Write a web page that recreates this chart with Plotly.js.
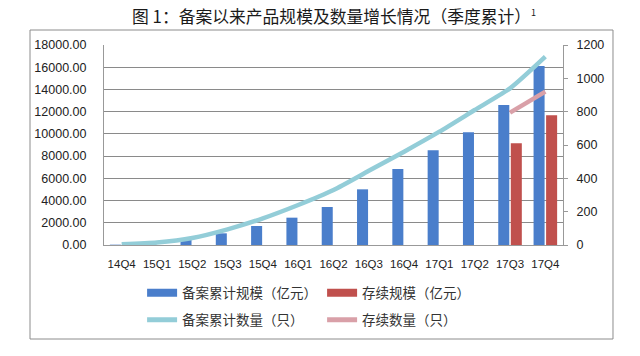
<!DOCTYPE html>
<html>
<head>
<meta charset="utf-8">
<script src="https://cdn.plot.ly/plotly-3.0.1.min.js"></script>
<style>html,body{margin:0;padding:0;background:#fff;}#chart{width:640px;height:356px;}</style>
</head>
<body>
<div id="chart"></div>
<script>
const categories = ['14Q4','15Q1','15Q2','15Q3','15Q4','16Q1','16Q2','16Q3','16Q4','17Q1','17Q2','17Q3','17Q4'];
const filedScale = [30, 100, 450, 1050, 1710, 2460, 3420, 5010, 6840, 8520, 10140, 12600, 16110];
const activeScale = [null, null, null, null, null, null, null, null, null, null, null, 9150, 11670];
const filedCount = [5, 15, 42, 94, 160, 240, 330, 445, 560, 680, 810, 940, 1130];
const activeCount = [null, null, null, null, null, null, null, null, null, null, null, 794, 920];
const leftTicks = [0, 2000, 4000, 6000, 8000, 10000, 12000, 14000, 16000, 18000];
const rightTicks = [0, 200, 400, 600, 800, 1000, 1200];
const names = ['备案累计规模（亿元）', '存续规模（亿元）', '备案累计数量（只）', '存续数量（只）'];

const cBlue = '#4a7ecb', cRed = '#c0504d', cAqua = '#93cdd8', cPink = '#d9a0a8';
const cjk = '"Noto Sans CJK SC", sans-serif';

const traces = [
  {type:'bar', x:categories, y:filedScale, name:names[0], marker:{color:cBlue}, showlegend:false},
  {type:'bar', x:categories, y:activeScale, name:names[1], marker:{color:cRed}, showlegend:false},
  {type:'scatter', mode:'lines', x:categories, y:filedCount, yaxis:'y2', name:names[2],
   line:{color:cAqua, width:4.5, shape:'spline', smoothing:0.6}, showlegend:false},
  {type:'scatter', mode:'lines', x:categories, y:activeCount, yaxis:'y2', name:names[3],
   line:{color:cPink, width:4.5}, showlegend:false, connectgaps:false},
  // legend entries
  {type:'scatter', mode:'lines', x:[null], y:[null], name:names[0], legend:'legend', line:{color:cBlue, width:8}},
  {type:'scatter', mode:'lines', x:[null], y:[null], name:names[1], legend:'legend', line:{color:cRed, width:8}},
  {type:'scatter', mode:'lines', x:[null], y:[null], name:names[2], legend:'legend2', line:{color:cAqua, width:5}},
  {type:'scatter', mode:'lines', x:[null], y:[null], name:names[3], legend:'legend2', line:{color:cPink, width:5}}
];

const legendBase = {
  orientation:'h', xanchor:'left', yanchor:'middle', x:0.083,
  font:{family:cjk, size:13.5, color:'#333'}, bgcolor:'rgba(0,0,0,0)',
  entrywidth:135, entrywidthmode:'pixels', itemclick:false, traceorder:'normal'
};

const layout = {
  width:640, height:356,
  margin:{l:104, r:77, t:45, b:111, pad:0},
  paper_bgcolor:'#fff', plot_bgcolor:'#fff',
  title:{text:'图 1：备案以来产品规模及数量增长情况（季度累计）<sup><span style="font-size:9px">1</span></sup>',
         x:0.522, xref:'container', xanchor:'center', y:0.952, yref:'container', yanchor:'middle',
         font:{family:cjk, size:16.8, color:'#1a1a1a'}},
  barmode:'group', bargap:0.29, bargroupgap:0.12,
  xaxis:{type:'category', tickvals:categories, ticktext:categories, showgrid:false, showline:true,
         linecolor:'#999', linewidth:1, ticks:'', tickfont:{family:'Liberation Sans', size:11.5, color:'#222'},
         ticklabelstandoff:8, range:[-0.5, 12.5], fixedrange:true},
  yaxis:{range:[0,18000], tickvals:leftTicks, ticktext:leftTicks.map(v=>v.toFixed(2)),
         showgrid:true, gridcolor:'#8a8a8a', gridwidth:1, showline:true, linecolor:'#999', linewidth:1,
         ticks:'', tickfont:{family:'Liberation Sans', size:12.5, color:'#222'}, ticklabelstandoff:14,
         zeroline:false},
  yaxis2:{range:[0,1200], tickvals:rightTicks, overlaying:'y', side:'right', showgrid:false,
          showline:true, linecolor:'#999', linewidth:1, ticks:'outside', ticklen:4, tickcolor:'#999',
          tickfont:{family:'Liberation Sans', size:12.5, color:'#222'}, ticklabelstandoff:6, zeroline:false},
  legend:Object.assign({}, legendBase, {y:-0.24}),
  legend2:Object.assign({}, legendBase, {y:-0.375}),
  shapes:[{type:'rect', xref:'paper', yref:'paper', x0:-0.1612, x1:1.1089, y0:-0.47, y1:1.075,
           line:{color:'#8c8c8c', width:1}, fillcolor:'rgba(0,0,0,0)', layer:'below'}],
  showlegend:true
};

Plotly.newPlot('chart', traces, layout, {staticPlot:true, displayModeBar:false});
</script>
</body>
</html>
